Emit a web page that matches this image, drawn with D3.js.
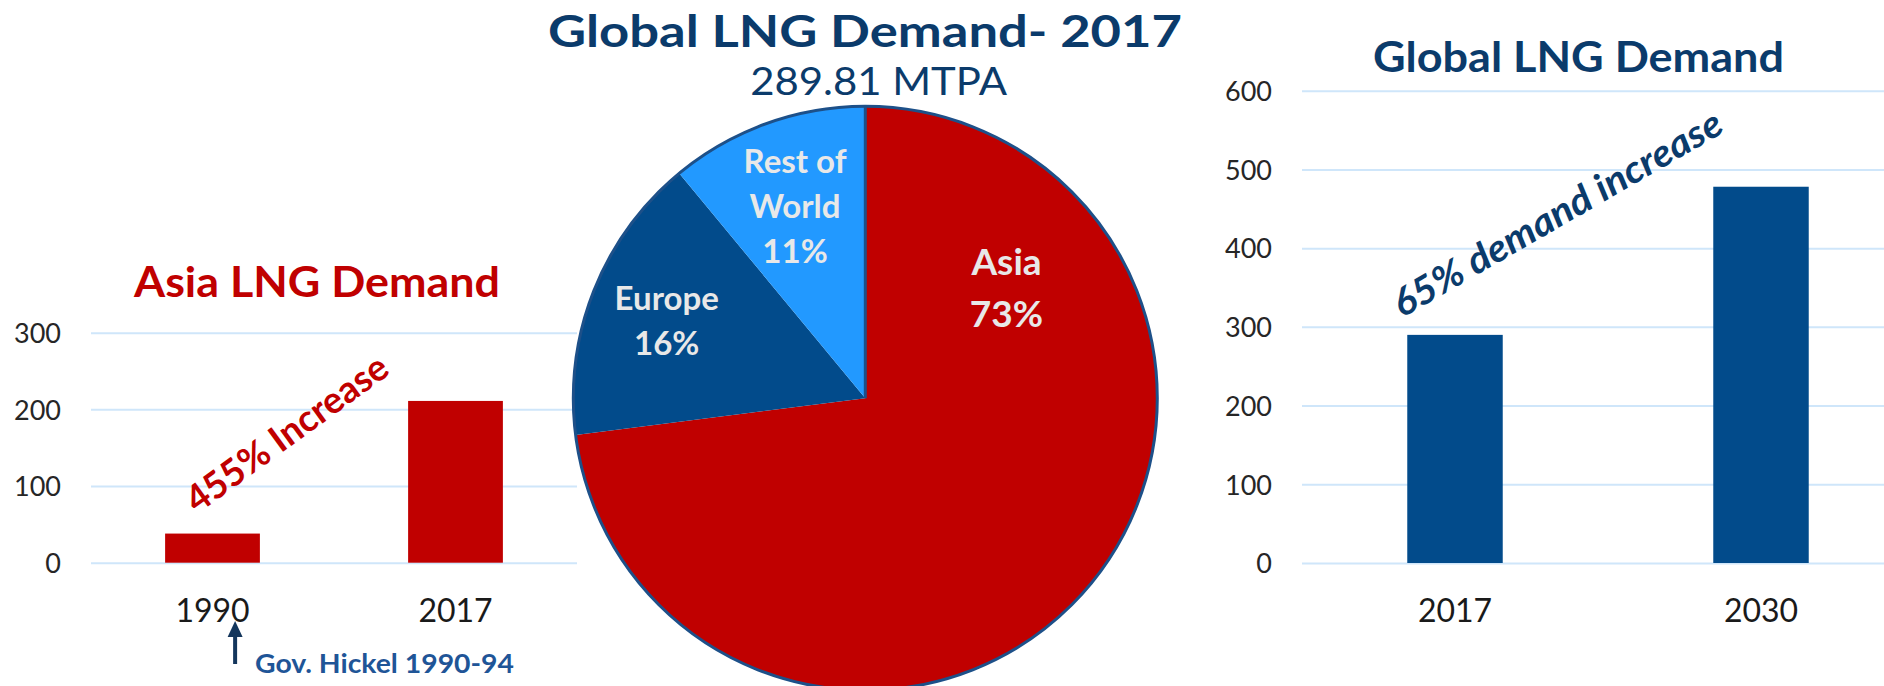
<!DOCTYPE html>
<html lang="en">
<head>
<meta charset="UTF-8">
<title>LNG Demand</title>
<script src="https://cdnjs.cloudflare.com/ajax/libs/d3/7.8.5/d3.min.js"></script>
<style>
  html, body { margin: 0; padding: 0; background: #fff; }
  svg { display: block; font-family: "Lato", "Open Sans", sans-serif; }
  .grid line { stroke: #cfe6fa; stroke-width: 2; }
  .grid .domain { display: none; }
  .xaxis .domain { display: none; }
</style>
</head>
<body>
<div class="canva"></div>
<script>
// ---- data ----
const asiaYears = ["1990", "2017"];
const asiaValues = [38, 211];
const asiaTicks = [0, 100, 200, 300];

const globalYears = ["2017", "2030"];
const globalValues = [289.81, 478];
const globalTicks = [0, 100, 200, 300, 400, 500, 600];

const pieRegions = ["Asia", "Europe", "Rest of World"];
const pieShares = [73, 16, 11];
const pieLabelLines = [["Asia", "73%"], ["Europe", "16%"], ["Rest of", "World", "11%"]];

const width = 1884, height = 686;
const navy = "#0b3b6b";
const red = "#c00000";
const darkBlue = "#024b8b";
const lightBlue = "#2299ff";
const fontFam = "Lato, 'Open Sans', sans-serif";

const svg = d3.select(".canva").append("svg")
  .attr("width", width)
  .attr("height", height);

svg.append("rect").attr("width", width).attr("height", height).attr("fill", "#fff");

// ---------- left: Asia LNG Demand ----------
const xA = d3.scaleBand().domain(asiaYears).range([91, 577])
  .paddingInner(0.61).paddingOuter(0.305);
const yA = d3.scaleLinear().domain([0, 300]).range([562.7, 332.7]);

svg.append("g")
  .attr("class", "grid")
  .attr("transform", "translate(91,0)")
  .call(d3.axisLeft(yA).tickValues(asiaTicks).tickSize(-(577 - 91)).tickPadding(30))
  .attr("font-family", fontFam)
  .call(g => g.selectAll("text")
    .attr("fill", "#262626").attr("font-size", 27).attr("dy", "0.36em"));

svg.append("g")
  .selectAll("rect")
  .data(asiaValues)
  .join("rect")
  .attr("x", (d, i) => xA(asiaYears[i]))
  .attr("y", d => yA(d))
  .attr("width", xA.bandwidth())
  .attr("height", d => yA(0) - yA(d))
  .attr("fill", red);

svg.append("g")
  .attr("class", "xaxis")
  .attr("transform", `translate(0,${yA(0)})`)
  .call(d3.axisBottom(xA).tickSize(0))
  .attr("font-family", fontFam)
  .call(g => g.selectAll("text")
    .attr("dy", null).attr("y", 59)
    .attr("fill", "#1a1a1a").attr("font-size", 32));

svg.append("text")
  .attr("x", 317).attr("y", 296.7)
  .attr("text-anchor", "middle")
  .attr("font-size", 42).attr("font-weight", "bold")
  .attr("fill", red)
  .attr("textLength", 366).attr("lengthAdjust", "spacingAndGlyphs")
  .text("Asia LNG Demand");

svg.append("text")
  .attr("transform", "translate(286.5,433) rotate(-36)")
  .attr("text-anchor", "middle").attr("dy", "0.36em")
  .attr("font-size", 37).attr("font-weight", "bold")
  .attr("fill", red)
  .attr("textLength", 240).attr("lengthAdjust", "spacingAndGlyphs")
  .text("455% Increase");

// arrow under 1990
const arrowX = xA("1990") + 70;
svg.append("line")
  .attr("x1", arrowX).attr("x2", arrowX)
  .attr("y1", 664).attr("y2", 634)
  .attr("stroke", "#14365c").attr("stroke-width", 4);
svg.append("path")
  .attr("d", `M${arrowX},621 L${arrowX - 7.5},637 L${arrowX + 7.5},637 Z`)
  .attr("fill", "#14365c");

svg.append("text")
  .attr("x", 255).attr("y", 673.3)
  .attr("font-size", 27).attr("font-weight", "bold")
  .attr("fill", "#1f5597")
  .attr("textLength", 259).attr("lengthAdjust", "spacingAndGlyphs")
  .text("Gov. Hickel 1990-94");

// ---------- right: Global LNG Demand ----------
const xG = d3.scaleBand().domain(globalYears).range([1302, 1914])
  .paddingInner(0.688).paddingOuter(0.344);
const yG = d3.scaleLinear().domain([0, 600]).range([563, 90.7]);

svg.append("g")
  .attr("class", "grid")
  .attr("transform", "translate(1302,0)")
  .call(d3.axisLeft(yG).tickValues(globalTicks).tickSize(-(width - 1302)).tickPadding(30))
  .attr("font-family", fontFam)
  .call(g => g.selectAll("text")
    .attr("fill", "#262626").attr("font-size", 27).attr("dy", "0.36em"));

svg.append("g")
  .selectAll("rect")
  .data(globalValues)
  .join("rect")
  .attr("x", (d, i) => xG(globalYears[i]))
  .attr("y", d => yG(d))
  .attr("width", xG.bandwidth())
  .attr("height", d => yG(0) - yG(d))
  .attr("fill", darkBlue);

svg.append("g")
  .attr("class", "xaxis")
  .attr("transform", `translate(0,${yG(0)})`)
  .call(d3.axisBottom(xG).tickSize(0))
  .attr("font-family", fontFam)
  .call(g => g.selectAll("text")
    .attr("dy", null).attr("y", 58.7)
    .attr("fill", "#1a1a1a").attr("font-size", 32));

svg.append("text")
  .attr("x", 1578.5).attr("y", 71.7)
  .attr("text-anchor", "middle")
  .attr("font-size", 42).attr("font-weight", "bold")
  .attr("fill", navy)
  .attr("textLength", 411).attr("lengthAdjust", "spacingAndGlyphs")
  .text("Global LNG Demand");

svg.append("text")
  .attr("transform", "translate(1557,213) rotate(-30)")
  .attr("text-anchor", "middle").attr("dy", "0.36em")
  .attr("font-size", 38).attr("font-weight", "bold").attr("font-style", "italic")
  .attr("fill", navy)
  .attr("textLength", 374).attr("lengthAdjust", "spacingAndGlyphs")
  .text("65% demand increase");

// ---------- centre: pie ----------
const cx = 865.3, cy = 398.3, radius = 292;
const pieColors = [red, darkBlue, lightBlue];

const arcs = d3.pie().sort(null)(pieShares);
const arcPath = d3.arc().innerRadius(0).outerRadius(radius);

const pieG = svg.append("g").attr("transform", `translate(${cx},${cy})`);

pieG.selectAll("path")
  .data(arcs)
  .join("path")
  .attr("d", arcPath)
  .attr("fill", (d, i) => pieColors[i]);

// outline and the divider at 12 o'clock
pieG.append("circle")
  .attr("r", radius)
  .attr("fill", "none")
  .attr("stroke", "#1d5089").attr("stroke-width", 3);
pieG.append("line")
  .attr("x1", 0).attr("y1", 0)
  .attr("x2", radius * Math.sin(arcs[0].startAngle))
  .attr("y2", -radius * Math.cos(arcs[0].startAngle))
  .attr("stroke", "#1d5089").attr("stroke-width", 3);

// label placement (offset from centre, first baseline, line gap, font size)
const labelPos = [
  {dx: 141.2, y0: -123.3, gap: 51.7, size: 37},
  {dx: -198.6, y0: -88.3, gap: 45, size: 33},
  {dx: -70.3, y0: -225, gap: 45, size: 33}
];

pieG.selectAll("text.lbl")
  .data(arcs)
  .join("text")
  .attr("class", "lbl")
  .attr("text-anchor", "middle")
  .attr("font-weight", "bold")
  .attr("fill", "#e8e8e8")
  .attr("font-size", (d, i) => labelPos[i].size)
  .each(function(d, i) {
    const p = labelPos[i];
    d3.select(this).selectAll("tspan")
      .data(pieLabelLines[i])
      .join("tspan")
      .attr("x", p.dx)
      .attr("y", (t, j) => p.y0 + j * p.gap)
      .text(t => t);
  });

// titles above the pie
svg.append("text")
  .attr("x", 865).attr("y", 46.7)
  .attr("text-anchor", "middle")
  .attr("font-size", 43).attr("font-weight", "bold")
  .attr("fill", navy)
  .attr("textLength", 634).attr("lengthAdjust", "spacingAndGlyphs")
  .text("Global LNG Demand- 2017");

svg.append("text")
  .attr("x", 878.7).attr("y", 95)
  .attr("text-anchor", "middle")
  .attr("font-size", 38)
  .attr("fill", navy)
  .attr("textLength", 257).attr("lengthAdjust", "spacingAndGlyphs")
  .text("289.81 MTPA");
</script>
</body>
</html>
